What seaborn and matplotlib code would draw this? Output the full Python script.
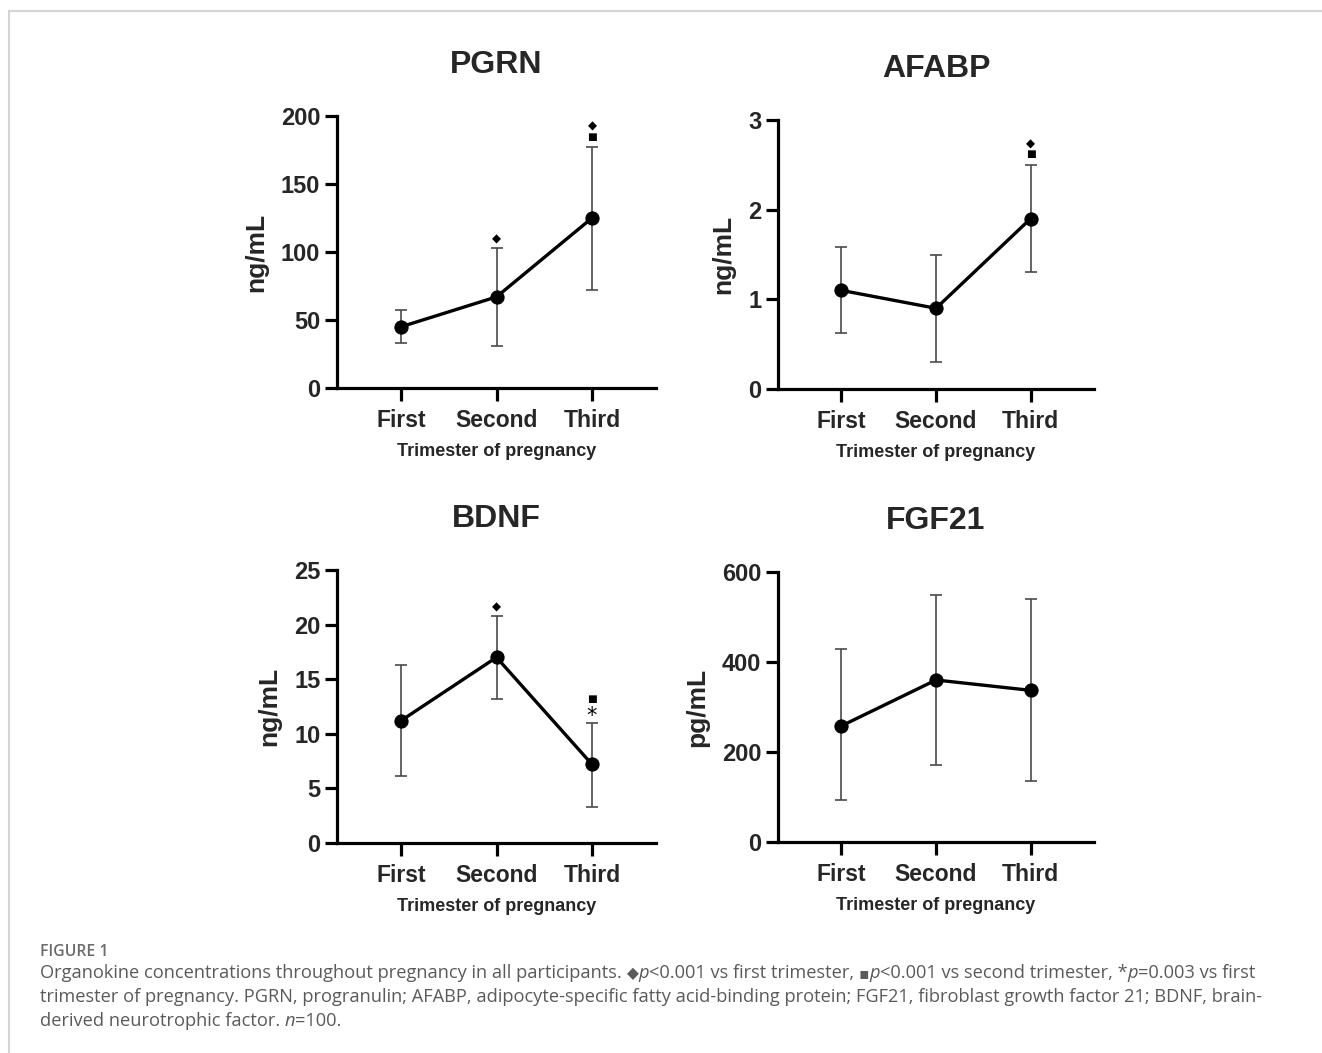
import numpy as np
import pandas as pd
import matplotlib
matplotlib.use("Agg")
import matplotlib.pyplot as plt
from matplotlib.lines import Line2D
import seaborn as sns

# ---------------- data ----------------
trimesters = ["First", "Second", "Third"]

pgrn_mean = [45, 67, 125]
pgrn_upper = [57, 103, 177]
pgrn_lower = [33, 31, 72]

afabp_mean = [1.10, 0.90, 1.90]
afabp_upper = [1.58, 1.50, 2.50]
afabp_lower = [0.62, 0.30, 1.30]

bdnf_mean = [11.2, 17.0, 7.2]
bdnf_upper = [16.3, 20.8, 11.0]
bdnf_lower = [6.1, 13.2, 3.3]

fgf21_mean = [258, 360, 337]
fgf21_upper = [428, 550, 540]
fgf21_lower = [93, 171, 135]

pgrn_sig = [[], ["◆"], ["■", "◆"]]
afabp_sig = [[], [], ["■", "◆"]]
bdnf_sig = [[], ["◆"], ["*", "■"]]
fgf21_sig = [[], [], []]

titles = ["PGRN", "AFABP", "BDNF", "FGF21"]
units = ["ng/mL", "ng/mL", "ng/mL", "pg/mL"]
y_ticks = [[0, 50, 100, 150, 200], [0, 1, 2, 3], [0, 5, 10, 15, 20, 25], [0, 200, 400, 600]]
x_label = "Trimester of pregnancy"

caption_head = "FIGURE 1"
# (text, style) segments per caption line
caption_lines = [
    [("Organokine concentrations throughout pregnancy in all participants. ", "normal"),
     ("\u25c6", "sym"), ("p", "italic"), ("<0.001 vs first trimester, ", "normal"),
     ("\u25aa", "sym"), ("p", "italic"), ("<0.001 vs second trimester, *", "normal"),
     ("p", "italic"), ("=0.003 vs first", "normal")],
    [("trimester of pregnancy. PGRN, progranulin; AFABP, adipocyte-specific fatty acid-binding protein; FGF21, fibroblast growth factor 21; BDNF, brain-", "normal")],
    [("derived neurotrophic factor. ", "normal"), ("n", "italic"), ("=100.", "normal")],
]

# ---------------- style ----------------
sns.set_theme(style="white")
plt.rcParams["font.family"] = ["Liberation Sans", "DejaVu Sans"]

W, H = 1322, 1053
fig = plt.figure(figsize=(W / 100, H / 100), dpi=100)
fig.patch.set_facecolor("white")

def rect(l, r, t, b):
    return [l / W, 1 - b / H, (r - l) / W, (b - t) / H]

axes_rects = [
    rect(337, 656, 116, 388),
    rect(778, 1094, 120, 389),
    rect(337, 656, 570, 843),
    rect(778, 1094, 572, 842),
]

panels = [
    (pgrn_mean, pgrn_upper, pgrn_lower, pgrn_sig),
    (afabp_mean, afabp_upper, afabp_lower, afabp_sig),
    (bdnf_mean, bdnf_upper, bdnf_lower, bdnf_sig),
    (fgf21_mean, fgf21_upper, fgf21_lower, fgf21_sig),
]

for i, (mean, up, lo, sig) in enumerate(panels):
    ax = fig.add_axes(axes_rects[i])
    xpos = np.arange(len(trimesters))
    mean = np.array(mean, float)
    up = np.array(up, float)
    lo = np.array(lo, float)
    ax.errorbar(xpos, mean, yerr=[mean - lo, up - mean], fmt="none",
                ecolor="#4a4a4a", elinewidth=1.2, capsize=4.5, capthick=1.2, zorder=2)
    df = pd.DataFrame({"x": xpos, "y": mean})
    sns.lineplot(data=df, x="x", y="y", ax=ax, color="black", linewidth=2.4,
                 marker="o", markersize=9.5, markeredgecolor="black",
                 markerfacecolor="black", errorbar=None, zorder=3)
    # significance symbols
    for j, syms in enumerate(sig):
        off = 6.5
        for s in syms:
            if s == "*":
                ax.annotate(s, xy=(xpos[j], up[j]), xytext=(0, off - 1.5), textcoords="offset points",
                            ha="center", va="center", fontsize=15, color="black",
                            family="DejaVu Sans")
                off += 9.5
            elif s == "■":
                ax.annotate(s, xy=(xpos[j], up[j]), xytext=(0, off + 1), textcoords="offset points",
                            ha="center", va="center", fontsize=7.5, color="black",
                            family="DejaVu Sans")
                off += 8.5
            else:
                ax.annotate(s, xy=(xpos[j], up[j]), xytext=(0, off), textcoords="offset points",
                            ha="center", va="center", fontsize=8.5, color="black",
                            family="DejaVu Sans")
                off += 9
    yt = y_ticks[i]
    ax.set_ylim(yt[0], yt[-1])
    ax.set_xlim(-0.67, 2.67)
    ax.set_yticks(yt)
    ax.set_yticklabels([str(v) for v in yt], fontsize=17, fontweight="bold")
    ax.set_xticks(xpos)
    ax.set_xticklabels(trimesters, fontsize=16.5, fontweight="bold")
    ax.set_xlabel(x_label, fontsize=13, fontweight="bold", labelpad=8)
    ax.set_ylabel(units[i], fontsize=19, fontweight="bold", labelpad=9)
    ax.set_title(titles[i], fontsize=23, fontweight="bold", pad=31)
    for sp in ["top", "right"]:
        ax.spines[sp].set_visible(False)
    for sp in ["left", "bottom"]:
        ax.spines[sp].set_linewidth(2.3)
        ax.spines[sp].set_color("black")
    ax.tick_params(axis="both", direction="out", length=9, width=2.3, color="black",
                   left=True, bottom=True)
    ax.tick_params(axis="y", pad=3)
    ax.tick_params(axis="x", pad=6)
    ax.set_facecolor("white")
    ax.grid(False)

# border lines
fig.add_artist(Line2D([9 / W, 1], [1 - 11 / H, 1 - 11 / H], color="#d4d4d4", linewidth=1.5))
fig.add_artist(Line2D([9 / W, 9 / W], [0, 1 - 11 / H], color="#d4d4d4", linewidth=1.5))

# caption
renderer = fig.canvas.get_renderer()
cap_family = ["Open Sans", "DejaVu Sans"]

def seg_props(style, size):
    if style == "italic":
        return dict(family=cap_family, fontstyle="italic", fontsize=size)
    if style == "sym":
        return dict(family=["DejaVu Sans"], fontsize=size * 0.85)
    return dict(family=cap_family, fontsize=size)

def seg_width(txt, style, size):
    p = seg_props(style, size)
    t1 = fig.text(0, 0, "|" + txt + "|", **p)
    t2 = fig.text(0, 0, "||", **p)
    w = t1.get_window_extent(renderer).width - t2.get_window_extent(renderer).width
    t1.remove(); t2.remove()
    return w

def line_width(segs, size):
    return sum(seg_width(t, s, size) for t, s in segs)

x0 = 40
target = 1262 - x0
base = 10.0
cap_size = base * target / line_width(caption_lines[0], base)

fig.text(x0 / W, 1 - 952 / H, caption_head, fontsize=cap_size * 0.86, color="#6b6b6b",
         family=cap_family, fontweight="semibold", va="center", ha="left")
line_y = [973, 997, 1021]
for k, segs in enumerate(caption_lines):
    x = x0
    for txt, style in segs:
        p = seg_props(style, cap_size)
        fig.text(x / W, 1 - (line_y[k] + 5) / H, txt, color="#5a5a5a",
                 va="baseline", ha="left", **p)
        x += seg_width(txt, style, cap_size)

fig.savefig("out.png", dpi=100, facecolor="white")
